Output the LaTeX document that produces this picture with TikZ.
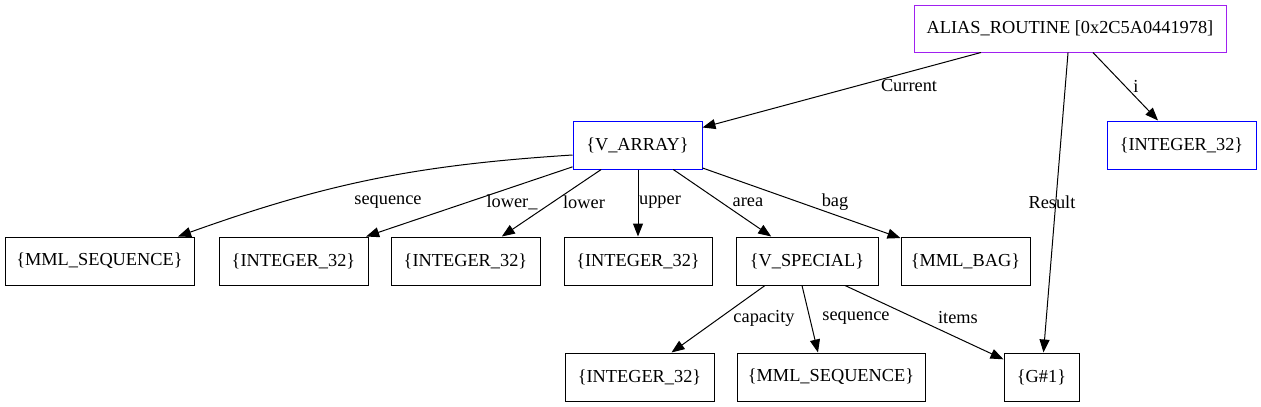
\documentclass[tikz,border=0pt]{standalone}
\usepackage{fontspec}
\setmainfont{Liberation Serif}
\usetikzlibrary{arrows.meta}
\definecolor{gvpurple}{RGB}{160,32,240}
\definecolor{gvblue}{RGB}{0,0,255}
\tikzset{
  box/.style={draw=black, line width=0.75pt, minimum height=36pt, inner sep=0pt, font=\fontsize{13.75pt}{16pt}\selectfont},
  edge/.style={draw=black, line width=0.75pt, -{Triangle[length=9.75pt,width=7.5pt]}},
  lbl/.style={inner sep=0pt, font=\fontsize{13.75pt}{16pt}\selectfont}
}
\begin{document}
\begin{tikzpicture}[x=0.75pt,y=-0.75pt]
\useasboundingbox (0,0) rectangle (1261,407);
% nodes
\node[box, draw=gvpurple, minimum width=234pt, minimum height=35.25pt] (alias) at (1070,28.5) {ALIAS\_ROUTINE [0x2C5A0441978]};
\node[box, draw=gvblue, minimum width=111.75pt] (irt) at (1181.5,145) {\{INTEGER\_32\}};
\node[box, draw=gvblue, minimum width=96.75pt] (varray) at (637.5,145) {\{V\_ARRAY\}};
\node[box, minimum width=141.75pt] (mseq1) at (99.5,261) {\{MML\_SEQUENCE\}};
\node[box, minimum width=111.75pt] (int1) at (293.5,261) {\{INTEGER\_32\}};
\node[box, minimum width=111.75pt] (int2) at (465.5,261) {\{INTEGER\_32\}};
\node[box, minimum width=111pt] (int3) at (638,261) {\{INTEGER\_32\}};
\node[box, minimum width=106.5pt] (vspec) at (807,261) {\{V\_SPECIAL\}};
\node[box, minimum width=96.75pt] (bag) at (965.5,261) {\{MML\_BAG\}};
\node[box, minimum width=111.75pt] (int4) at (639.5,377) {\{INTEGER\_32\}};
\node[box, minimum width=141pt] (mseq2) at (831,377) {\{MML\_SEQUENCE\}};
\node[box, minimum width=56.25pt] (g1) at (1041.5,377) {\{G\#1\}};
% edges
\draw[edge] (alias) -- (varray);
\draw[edge] (alias) -- (irt);
\draw[edge] (alias) -- (g1);
\draw[edge] ([yshift=-7.5pt]varray.west) to[bend right=8] ([xshift=58.9pt]mseq1.north);
\draw[edge] (varray) -- (int1);
\draw[edge] (varray) -- (int2);
\draw[edge] (varray.south -| int3.north) -- (int3.north);
\draw[edge] (varray) -- (vspec);
\draw[edge] (varray) -- (bag);
\draw[edge] ([xshift=-31.5pt]vspec.south) -- ([xshift=24pt]int4.north);
\draw[edge] ([xshift=-3.75pt]vspec.south) -- ([xshift=-9.75pt]mseq2.north);
\draw[edge] ([xshift=28.5pt]vspec.south) -- (g1);
% labels
\node[lbl] (lcur) at (909,86) {Current};
\node[lbl] (li) at (1136,86) {i};
\node[lbl] (lres) at (1052,202) {Result};
\node[lbl] (lseq1) at (388,202) {sequence};
\node[lbl] (llow_) at (512,202) {lower\_};
\node[lbl] (llow) at (584,202) {lower};
\node[lbl] (lup) at (660,202) {upper};
\node[lbl] (larea) at (748,202) {area};
\node[lbl] (lbag) at (835,202) {bag};
\node[lbl] (lcap) at (764,318) {capacity};
\node[lbl] (lseq2) at (856,318) {sequence};
\node[lbl] (litems) at (958,318) {items};
\end{tikzpicture}
\end{document}
